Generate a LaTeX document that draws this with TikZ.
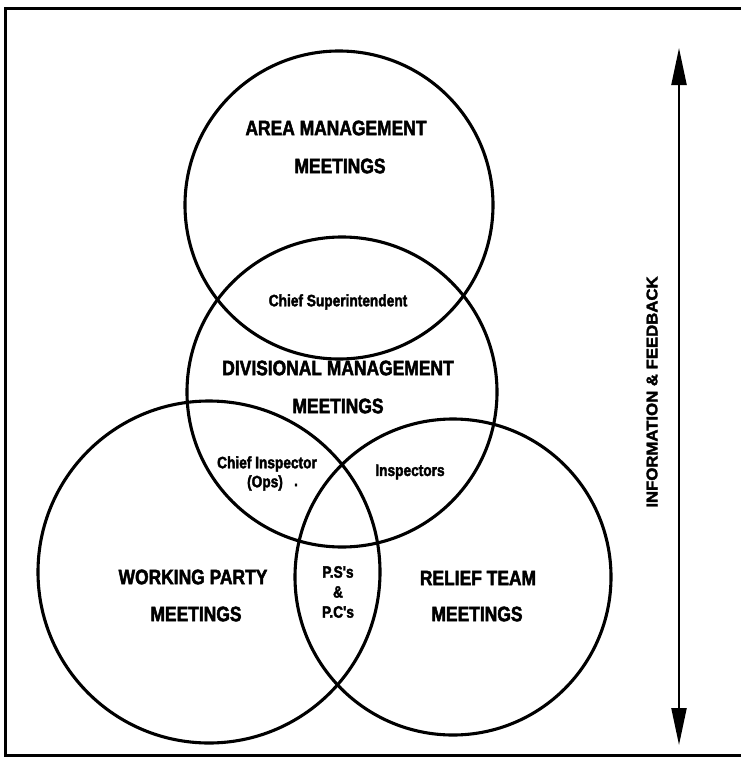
\documentclass[tikz,border=0pt]{standalone}
\usepackage{fontspec}
\newfontfamily\condfont[FakeStretch=0.83,BoldFeatures={FakeBold=2.2}]{Liberation Sans}
\newfontfamily\widefont[FakeStretch=1.08,BoldFeatures={FakeBold=2.2}]{Liberation Sans}
\usetikzlibrary{arrows.meta}
\begin{document}
\begin{tikzpicture}[x=1pt,y=-1pt,
  ring/.style={circle,draw,line width=3.1pt,inner sep=0pt},
  big/.style={font=\condfont\bfseries\fontsize{21}{21}\selectfont,inner sep=0pt},
  small/.style={font=\condfont\bfseries\fontsize{16.5}{16.5}\selectfont,inner sep=0pt},
  side/.style={font=\widefont\bfseries\fontsize{15.5}{15.5}\selectfont,inner sep=0pt},
  frame/.style={line width=3pt},
  flow/.style={line width=2.2pt,{Triangle[length=37pt,width=15pt]}-{Triangle[length=37pt,width=15pt]}}]
\useasboundingbox (0,0) rectangle (740,760);
\draw[frame] (745,9) -- (5,9) -- (5,755) -- (745,755);
% circles
\node[ring,minimum size=308pt] (area) at (339,205) {};
\node[ring,minimum size=310pt] (div) at (342,392) {};
\node[ring,minimum size=342pt] (work) at (209,572) {};
\node[ring,minimum size=316pt] (relief) at (453,577) {};
% labels
\node[big] (a1) at (336,128) {AREA MANAGEMENT};
\node[big] (a2) at (340,166) {MEETINGS};
\node[small] (cs) at (338,302) {Chief Superintendent};
\node[big] (d1) at (338,368) {DIVISIONAL MANAGEMENT};
\node[big] (d2) at (338,406) {MEETINGS};
\node[small] (ci1) at (267,464) {Chief Inspector};
\node[small] (ci2) at (265,483) {(Ops)};
\node[small] (dot) at (296,485) {.};
\node[small] (insp) at (410,472) {Inspectors};
\node[big] (w1) at (193,577) {WORKING PARTY};
\node[big] (w2) at (196,614) {MEETINGS};
\node[small] (ps) at (338,572) {P.S's};
\node[small] (amp) at (338,592) {\&};
\node[small] (pc) at (338,612) {P.C's};
\node[big] (r1) at (478,578) {RELIEF TEAM};
\node[big] (r2) at (477,614) {MEETINGS};
\node[side,rotate=90] (info) at (652,392) {INFORMATION \& FEEDBACK};
% arrow
\coordinate (top) at (679,48);
\coordinate (bot) at (679,745);
\draw[flow] (top) -- (bot);
\end{tikzpicture}
\end{document}
